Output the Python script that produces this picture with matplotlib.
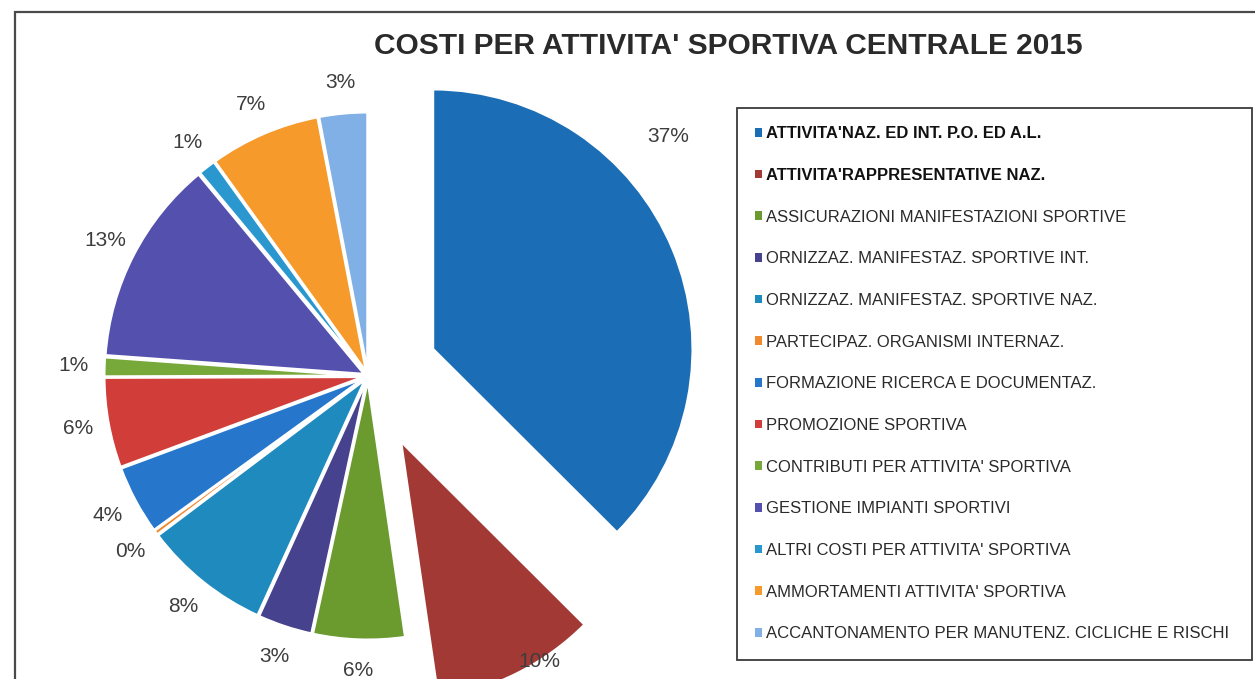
import numpy as np
import matplotlib
matplotlib.use("Agg")
import matplotlib.pyplot as plt
from matplotlib.patches import Rectangle

# data (percent of total costs)
categories = [
    "ATTIVITA'NAZ. ED INT. P.O. ED A.L.",
    "ATTIVITA'RAPPRESENTATIVE NAZ.",
    "ASSICURAZIONI MANIFESTAZIONI SPORTIVE",
    "ORNIZZAZ. MANIFESTAZ. SPORTIVE INT.",
    "ORNIZZAZ. MANIFESTAZ. SPORTIVE NAZ.",
    "PARTECIPAZ. ORGANISMI INTERNAZ.",
    "FORMAZIONE RICERCA E DOCUMENTAZ.",
    "PROMOZIONE SPORTIVA",
    "CONTRIBUTI PER ATTIVITA' SPORTIVA",
    "GESTIONE IMPIANTI SPORTIVI",
    "ALTRI COSTI PER ATTIVITA' SPORTIVA",
    "AMMORTAMENTI ATTIVITA' SPORTIVA",
    "ACCANTONAMENTO PER MANUTENZ. CICLICHE E RISCHI",
]
values = [37.4, 10.2, 5.7, 3.4, 7.9, 0.3, 4.3, 5.6, 1.2, 12.8, 1.1, 6.9, 3.0]
title = "COSTI PER ATTIVITA' SPORTIVA CENTRALE 2015"

colors = ["#1B6DB6", "#A23934", "#6B9A2F", "#46428E", "#1E8ABD", "#F08A2E",
          "#2677CC", "#D13E3A", "#76A83A", "#5451AE", "#2A98CF", "#F59A2B",
          "#80B0E6"]
explode = [0.27, 0.28] + [0.015] * 11

W, H = 1255, 679
fig = plt.figure(figsize=(W / 100, H / 100), dpi=100)

# outer chart frame (cut off on the right/bottom like the scan)
fig.add_artist(Rectangle((15 / W, -0.1), 1.2, 1.1 - 12 / H, transform=fig.transFigure,
                         fill=False, edgecolor="#4a4a4a", linewidth=1.6))

# pie axes: centre at (368, 376) px, radius 260 px
cx, cy, r = 368, 376, 260
half = 1.5 * r
ax = fig.add_axes([(cx - half) / W, (H - cy - half) / H, 2 * half / W, 2 * half / H])

wedges, texts, autotexts = ax.pie(
    values, colors=colors, explode=explode, startangle=90, counterclock=False,
    autopct="%.0f%%", pctdistance=1.12, radius=1,
    wedgeprops=dict(edgecolor="white", linewidth=2),
    textprops=dict(fontsize=15, color="#3d3d3d", family="Liberation Sans"))
ax.set_xlim(-1.5, 1.5)
ax.set_ylim(-1.5, 1.5)
ax.set_aspect("equal")
ax.axis("off")

# the two big exploded slices have their labels placed more freely
def polar(ang_deg, dist):
    a = np.deg2rad(ang_deg)
    return dist * np.sin(a), dist * np.cos(a)

bis0 = 360 * values[0] / 2 / sum(values)
ox, oy = polar(bis0, explode[0])
lx, ly = polar(48, 1.22)
autotexts[0].set_position((ox + lx, oy + ly))
autotexts[1].set_position(polar(149, 1.28))

fig.text(728 / W, 1 - 46 / H, title, ha="center", va="center", fontsize=21.5,
         fontweight="bold", color="#2a2a2a", family="Liberation Sans")

leg = fig.legend(
    wedges, categories, loc="upper left",
    bbox_to_anchor=(737 / W, 1 - 108 / H - 0.01, (1252 - 737) / W, 0.01), mode="expand",
    borderaxespad=0, fancybox=False, edgecolor="#3a3a3a", framealpha=1,
    prop=dict(family="Liberation Sans", size=12),
    handlelength=0.42, handleheight=0.42, handletextpad=0.25,
    labelspacing=1.6, borderpad=1.1)
leg.get_frame().set_linewidth(1.3)
for i, t in enumerate(leg.get_texts()):
    t.set_color("#2a2a2a")
    if i < 2:
        t.set_fontweight("bold")
        t.set_color("#111111")
for h in leg.legend_handles:
    h.set_edgecolor("none")

fig.savefig("out.png", dpi=100)
